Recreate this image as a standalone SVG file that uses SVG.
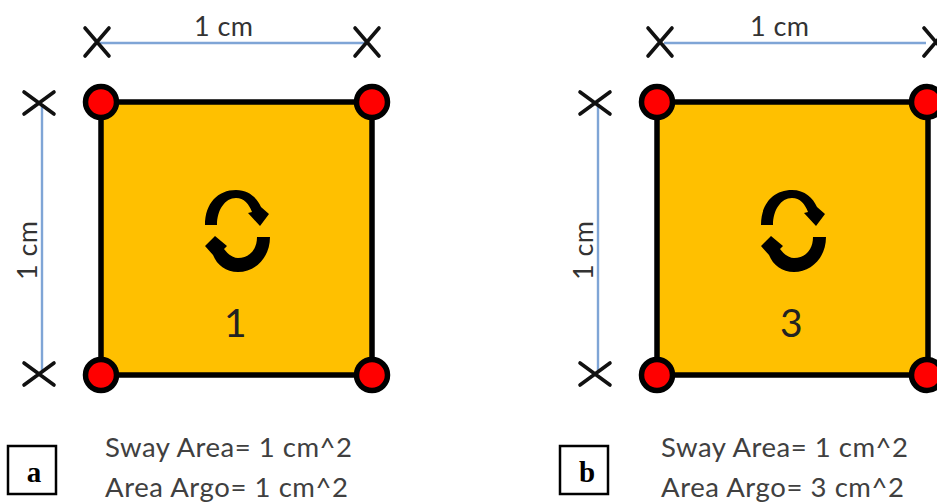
<svg xmlns="http://www.w3.org/2000/svg" width="937" height="502" viewBox="0 0 937 502">
<style>
.sq{fill:#ffc000;stroke:#000;stroke-width:5.5}
.dot{fill:#f00;stroke:#000;stroke-width:5.5}
.x{fill:none;stroke:#111;stroke-width:3.6;stroke-linecap:round}
.dim{fill:none;stroke:#7fa5d6;stroke-width:2.4}
.t{font-family:Lato,"Open Sans",sans-serif;fill:#404040}
.s{font-size:27.5px}
.c{font-size:27px;fill:#333}
.n{font-size:39px;fill:#222}
.box{fill:#fff;stroke:#000;stroke-width:2.5}
.l{font-family:"Liberation Serif",serif;font-weight:bold;font-size:29px;fill:#000;text-anchor:middle}
</style>
<defs>
<g id="sym">
<path d="M205 225C205 203 218 190 236 190C249 190 257 198 261 207L269 214L260 226L248 213L252 212C249 204 244 198 236 198C225 198 217 210 217 225Z"/>
<path d="M270 237C270 258 255 272 238 272C226 272 217 265 213 255L205 246L215 236L227 246L224 249C227 253 232 258 238 258C249 258 257 250 257 237Z"/>
</g>
<g id="xh"><path class="x" d="M-12-14L12 14M12-14L-12 14"/></g>
<g id="xv"><path class="x" d="M-15-11L15 11M15-11L-15 11"/></g>
</defs>
<g id="connectors">
<path class="dim" d="M100 43H366M42 106V370"/>
<path class="dim" d="M664 43H926M598 106V370"/>
</g>
<g id="panel-a">
<rect class="sq" x="101" y="102" width="271" height="273"/>
<circle class="dot" cx="101" cy="102" r="15.5"/><circle class="dot" cx="372" cy="102" r="15.5"/>
<circle class="dot" cx="101" cy="375" r="15.5"/><circle class="dot" cx="372" cy="375" r="15.5"/>
<use href="#xh" x="97" y="42"/><use href="#xh" x="367" y="42"/>
<use href="#xv" x="39" y="103"/><use href="#xv" x="39" y="374"/>
<use href="#sym"/>
<text class="t c" x="194" y="36" textLength="59">1 cm</text>
<text class="t c" transform="translate(37 280) rotate(-90)" textLength="59">1 cm</text>
<text class="t n" x="224" y="337">1</text>
<text class="t s" x="105" y="457" textLength="247">Sway Area= 1 cm^2</text>
<text class="t s" x="105" y="497" textLength="243">Area Argo= 1 cm^2</text>
<rect class="box" x="8" y="446" width="48" height="48"/>
<text class="l" x="34" y="482">a</text>
</g>
<g id="panel-b">
<rect class="sq" x="657" y="102" width="271" height="273"/>
<circle class="dot" cx="657" cy="102" r="15.5"/><circle class="dot" cx="927" cy="102" r="15.5"/>
<circle class="dot" cx="657" cy="375" r="15.5"/><circle class="dot" cx="927" cy="375" r="15.5"/>
<use href="#xh" x="660" y="42"/><use href="#xh" x="936" y="42"/>
<use href="#xv" x="595" y="103"/><use href="#xv" x="595" y="374"/>
<use href="#sym" x="556"/>
<text class="t c" x="750" y="36" textLength="59">1 cm</text>
<text class="t c" transform="translate(593 280) rotate(-90)" textLength="59">1 cm</text>
<text class="t n" x="780" y="337">3</text>
<text class="t s" x="661" y="457" textLength="247">Sway Area= 1 cm^2</text>
<text class="t s" x="661" y="497" textLength="243">Area Argo= 3 cm^2</text>
<rect class="box" x="560" y="446" width="48" height="48"/>
<text class="l" x="587" y="482">b</text>
</g>
</svg>
